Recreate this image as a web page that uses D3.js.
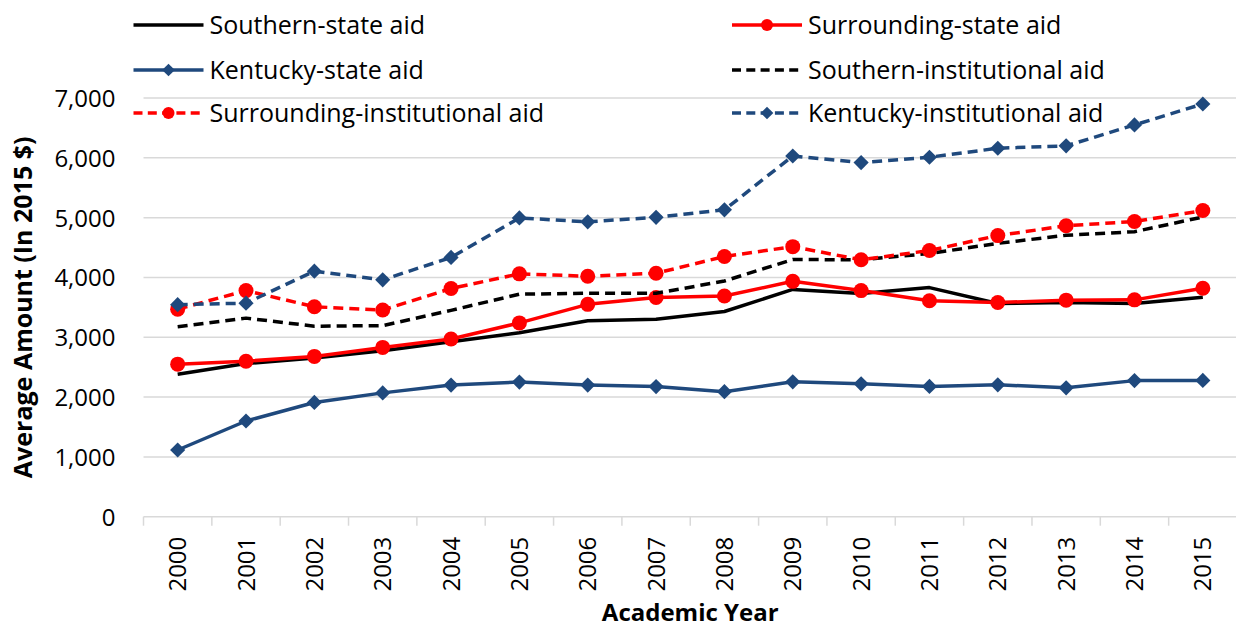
<!DOCTYPE html>
<html>
<head>
<meta charset="utf-8">
<script src="https://cdn.jsdelivr.net/npm/d3@7"></script>
<style>
  html, body { margin: 0; padding: 0; background: #fff; }
  svg { display: block; }
  text { font-family: "Open Sans", "Noto Sans", sans-serif; fill: #000; }
</style>
</head>
<body>
<svg id="chart" width="1236" height="629"></svg>
<script>
// Academic years on the x axis
const years = ["2000","2001","2002","2003","2004","2005","2006","2007",
               "2008","2009","2010","2011","2012","2013","2014","2015"];

// Average aid amounts (in 2015 $) per series
const southernState   = [2380, 2560, 2655, 2775, 2925, 3075, 3275, 3300, 3430, 3800, 3730, 3830, 3565, 3580, 3565, 3670];
const surroundingState= [2550, 2600, 2680, 2830, 2970, 3240, 3550, 3665, 3690, 3935, 3780, 3610, 3580, 3620, 3625, 3820];
const kentuckyState   = [1115, 1600, 1910, 2070, 2200, 2250, 2200, 2175, 2090, 2255, 2222, 2178, 2205, 2155, 2275, 2278];
const southernInst    = [3175, 3320, 3185, 3195, 3450, 3720, 3735, 3735, 3940, 4300, 4295, 4400, 4570, 4705, 4765, 5010];
const surroundingInst = [3470, 3780, 3510, 3455, 3815, 4060, 4020, 4070, 4350, 4515, 4295, 4450, 4700, 4865, 4935, 5118];
const kentuckyInst    = [3545, 3570, 4105, 3960, 4335, 4995, 4930, 5005, 5130, 6030, 5920, 6010, 6160, 6200, 6550, 6900];

// Y axis tick values
const yTicks = [0, 1000, 2000, 3000, 4000, 5000, 6000, 7000];

const series = [
  { name: "Southern-state aid",           values: southernState,    color: "#000000", dash: null,   marker: null },
  { name: "Surrounding-state aid",        values: surroundingState, color: "#FF0000", dash: null,   marker: "circle" },
  { name: "Kentucky-state aid",           values: kentuckyState,    color: "#1F497D", dash: null,   marker: "diamond" },
  { name: "Southern-institutional aid",   values: southernInst,     color: "#000000", dash: "10,6", marker: null },
  { name: "Surrounding-institutional aid",values: surroundingInst,  color: "#FF0000", dash: "10,6", marker: "circle" },
  { name: "Kentucky-institutional aid",   values: kentuckyInst,     color: "#1F497D", dash: "10,6", marker: "diamond" }
];

const svg = d3.select("#chart");
const plot = { left: 143.5, right: 1237, top: 98, bottom: 516.7 };

const x = d3.scaleBand().domain(years).range([plot.left, plot.right]).paddingInner(0).paddingOuter(0);
const xc = d => x(d) + x.bandwidth() / 2;
const y = d3.scaleLinear().domain([0, 7000]).range([plot.bottom, plot.top]);

const gridColor = "#D9D9D9";

// Horizontal gridlines
svg.append("g")
  .selectAll("line")
  .data(yTicks.filter(t => t > 0))
  .join("line")
  .attr("x1", plot.left).attr("x2", plot.right)
  .attr("y1", d => y(d)).attr("y2", d => y(d))
  .attr("stroke", gridColor).attr("stroke-width", 1.5);

// Y axis labels
const yAxis = d3.axisLeft(y).tickValues(yTicks).tickSize(0).tickPadding(28)
  .tickFormat(d3.format(","));
const gy = svg.append("g").attr("transform", `translate(${plot.left},0)`).call(yAxis);
gy.select(".domain").remove();
gy.selectAll("text").style("font-size", "24px").attr("dy", "0.35em")
  .style("font-family", "'Open Sans', sans-serif");

// X axis baseline and category boundary ticks
const xAxis = d3.axisBottom(x).tickSize(0).tickPadding(0);
const gx = svg.append("g").attr("transform", `translate(0,${plot.bottom})`).call(xAxis);
gx.select(".domain").attr("stroke", gridColor).attr("stroke-width", 1.5)
  .attr("d", `M${plot.left},0H${plot.right}`);
gx.selectAll(".tick text")
  .style("font-size", "24px")
  .style("font-family", "'Open Sans', sans-serif")
  .attr("text-anchor", "end")
  .attr("transform", "rotate(-90)")
  .attr("x", -20).attr("y", 0).attr("dy", "0.36em");
gx.selectAll(".bound")
  .data(years.concat(["end"]))
  .join("line")
  .attr("class", "bound")
  .attr("x1", (d, i) => plot.left + i * x.step())
  .attr("x2", (d, i) => plot.left + i * x.step())
  .attr("y1", 0).attr("y2", 9)
  .attr("stroke", gridColor).attr("stroke-width", 1.5);

// Series lines and markers
const line = d3.line().x((d, i) => xc(years[i])).y(d => y(d));
const diamond = d3.symbol().type(d3.symbolSquare);

series.forEach(s => {
  const g = svg.append("g");
  g.append("path")
    .attr("d", line(s.values))
    .attr("fill", "none")
    .attr("stroke", s.color)
    .attr("stroke-width", 3.5)
    .attr("stroke-linejoin", "round")
    .attr("stroke-dasharray", s.dash);
  if (s.marker === "circle") {
    g.selectAll("circle").data(s.values).join("circle")
      .attr("cx", (d, i) => xc(years[i])).attr("cy", d => y(d))
      .attr("r", 7.5).attr("fill", s.color);
  } else if (s.marker === "diamond") {
    g.selectAll("path.m").data(s.values).join("path")
      .attr("class", "m")
      .attr("d", diamond.size(115)())
      .attr("transform", (d, i) => `translate(${xc(years[i])},${y(d)}) rotate(45)`)
      .attr("fill", s.color);
  }
});

// Legend: two columns, three rows
const legendCols = [133.5, 732];
const legendRows = [25, 70, 113];
series.forEach((s, i) => {
  const lx = legendCols[i % 2], ly = legendRows[Math.floor(i / 2)];
  const g = svg.append("g").attr("transform", `translate(${lx},${ly})`);
  g.append("line").attr("x1", 0).attr("x2", 70).attr("y1", 0).attr("y2", 0)
    .attr("stroke", s.color).attr("stroke-width", 3.5)
    .attr("stroke-dasharray", s.dash ? "9,5.3" : null);
  if (s.marker === "circle") {
    g.append("circle").attr("cx", 35).attr("cy", 0).attr("r", 6).attr("fill", s.color);
  } else if (s.marker === "diamond") {
    g.append("path").attr("d", diamond.size(80)())
      .attr("transform", "translate(35,0) rotate(45)").attr("fill", s.color);
  }
  g.append("text").attr("x", 76).attr("y", 0).attr("dy", "0.35em")
    .style("font-size", "25px").text(s.name);
});

// Axis titles
svg.append("text")
  .attr("x", (plot.left + plot.right) / 2).attr("y", 621)
  .attr("text-anchor", "middle")
  .style("font-size", "24px").style("font-weight", "bold")
  .text("Academic Year");
svg.append("text")
  .attr("transform", `translate(32,${(plot.top + plot.bottom) / 2}) rotate(-90)`)
  .attr("text-anchor", "middle")
  .style("font-size", "25px").style("font-weight", "bold")
  .text("Average Amount (In 2015 $)");
</script>
</body>
</html>
